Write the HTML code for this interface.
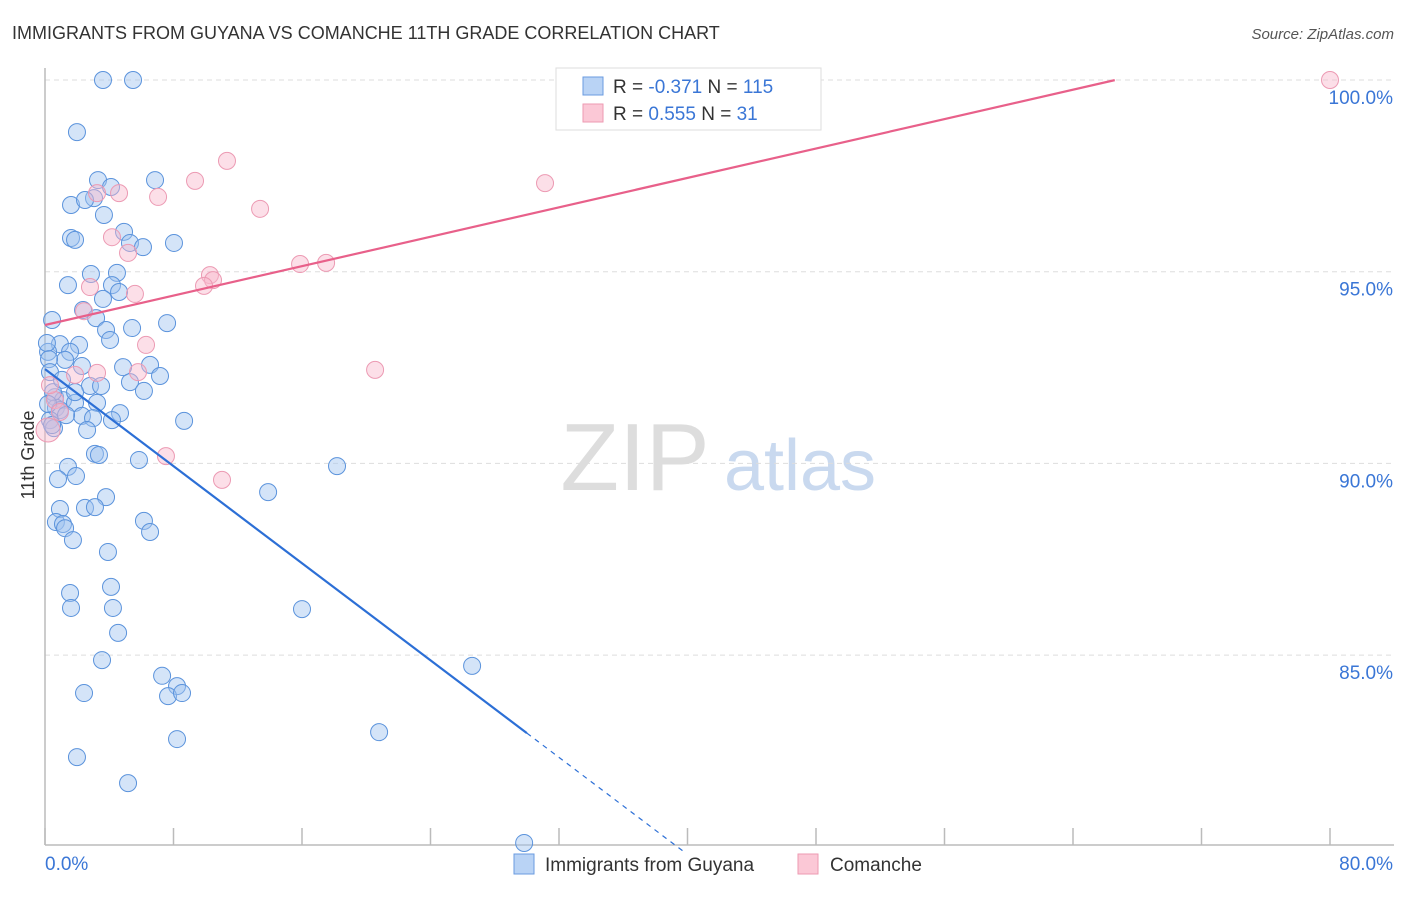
<!DOCTYPE html>
<html><head><meta charset="utf-8"><style>
body{margin:0;background:#fff;font-family:"Liberation Sans",sans-serif;}
svg text{font-family:"Liberation Sans",sans-serif;}
</style></head><body>
<svg id="chart" width="1406" height="892" xmlns="http://www.w3.org/2000/svg">
<text x="12" y="39" font-size="18" fill="#333">IMMIGRANTS FROM GUYANA VS COMANCHE 11TH GRADE CORRELATION CHART</text>
<text x="1394" y="39" font-size="15" fill="#555" text-anchor="end" font-style="italic">Source: ZipAtlas.com</text>
<g><text x="635" y="490" font-size="96" fill="#ddd" font-family="Liberation Serif" text-anchor="middle">ZIP</text><text x="800" y="490" font-size="72" fill="#c9d9ef" text-anchor="middle">atlas</text></g>
<g id="grid"></g><g id="axes"></g><g id="pts"></g><g id="lines"></g>
<text transform="translate(34,455) rotate(-90)" font-size="18" fill="#333" text-anchor="middle">11th Grade</text>
<g>
<rect x="556" y="68" width="265" height="62" fill="#fff" stroke="#ddd"/>
<rect x="583" y="77" width="20" height="18" fill="#b9d3f5" stroke="#6a9be0"/>
<rect x="583" y="104" width="20" height="18" fill="#fbc8d6" stroke="#ee9ab2"/>
<text x="613" y="93" font-size="19" fill="#333">R = <tspan fill="#3a76d6">-0.371</tspan>   N = <tspan fill="#3a76d6">115</tspan></text>
<text x="613" y="120" font-size="19" fill="#333">R =  <tspan fill="#3a76d6">0.555</tspan>   N =  <tspan fill="#3a76d6">31</tspan></text>
</g>
<g>
<rect x="514" y="854" width="20" height="20" fill="#b9d3f5" stroke="#6a9be0"/>
<text x="545" y="871" font-size="19" fill="#333">Immigrants from Guyana</text>
<rect x="798" y="854" width="20" height="20" fill="#fbc8d6" stroke="#ee9ab2"/>
<text x="830" y="871" font-size="19" fill="#333">Comanche</text>
</g>
</svg>
<script>
const yTicks=[100,95,90,85];
const yTickLabels=["100.0%","95.0%","90.0%","85.0%"];
const xTicks=[0,8,16,24,32,40,48,56,64,72,80];
const xEndLabels=["0.0%","80.0%"];
const blueX=[3.61,5.48,1.99,3.30,6.85,4.11,3.05,1.62,2.49,3.67,4.92,1.62,1.87,5.29,6.10,8.03,2.86,4.48,1.43,4.17,4.61,3.61,2.37,3.18,0.44,5.42,3.80,7.60,4.05,0.93,2.12,0.19,1.56,1.25,2.30,6.54,4.86,5.29,7.16,2.80,3.49,6.16,0.62,1.12,1.87,3.24,0.68,0.93,4.67,2.30,2.99,4.17,8.66,0.31,0.56,2.62,3.11,3.36,5.85,18.18,1.43,1.93,0.81,13.89,3.80,0.93,2.49,3.11,6.16,6.54,0.68,1.12,1.25,1.74,3.92,4.11,1.56,1.62,4.23,16.00,4.55,3.55,26.59,7.29,8.22,2.43,7.66,8.53,20.80,8.22,1.99,5.17,29.83,0.12,0.25,0.31,0.50,0.19,0.44,1.31,1.06,1.87];
const blueY=[100.0,100.0,98.64,97.39,97.39,97.21,96.92,96.74,96.87,96.48,96.04,95.88,95.83,95.75,95.64,95.75,94.94,94.97,94.65,94.65,94.47,94.29,94.00,93.79,93.74,93.53,93.48,93.66,93.22,93.11,93.09,92.91,92.91,92.70,92.54,92.57,92.51,92.12,92.28,92.02,92.02,91.89,91.73,91.65,91.58,91.58,91.45,91.39,91.31,91.24,91.18,91.13,91.11,91.13,90.92,90.87,90.25,90.22,90.09,89.93,89.91,89.67,89.59,89.25,89.12,88.81,88.84,88.86,88.50,88.21,88.47,88.42,88.31,88.00,87.69,86.78,86.62,86.23,86.23,86.20,85.58,84.87,84.72,84.46,84.19,84.01,83.93,84.01,82.99,82.81,82.34,81.66,80.10,93.14,92.72,92.38,91.86,91.55,91.00,91.26,92.18,91.86];
const pinkX=[33.13,80.0,11.33,9.34,31.13,7.04,4.61,3.24,13.39,4.17,5.17,15.88,17.50,10.27,10.46,9.90,2.80,5.60,2.43,6.29,20.55,1.87,3.24,5.79,7.53,11.02,0.62,0.93,0.19,0.31];
const pinkY=[100.0,100.0,97.89,97.37,97.31,96.95,97.05,97.05,96.64,95.90,95.49,95.20,95.23,94.91,94.78,94.63,94.60,94.42,93.97,93.09,92.44,92.31,92.36,92.38,90.19,89.57,91.65,91.34,90.87,92.04];
const blueFit=[92.46,-0.3165]; // intercept, slope
const blueSolidEnd=30.0, blueDashEnd=39.9;
const pinkFit=[93.61,0.0959];
const pinkEnd=66.6;
const X=v=>45+v*1285/80, Y=v=>80+(100-v)*191.7/5;
const NS="http://www.w3.org/2000/svg";
function mk(tag,attrs,parent){const e=document.createElementNS(NS,tag);for(const k in attrs)e.setAttribute(k,attrs[k]);document.getElementById(parent).appendChild(e);return e;}
yTicks.forEach((t,i)=>{
 const l=mk('line',{x1:45,x2:1394,y1:Y(t),y2:Y(t),stroke:'#ddd','stroke-dasharray':'5,4'},'grid');
 
 
 const tx=mk('text',{x:1393,y:Y(t)+24,'font-size':19,fill:'#3a76d6','text-anchor':'end'},'grid');tx.textContent=yTickLabels[i];
 
 
});
const ax=mk('line',{x1:45,x2:1394,y1:845,y2:845,stroke:'#bbb','stroke-width':1.5},'axes');


const ay=mk('line',{x1:45,x2:45,y1:68,y2:845,stroke:'#bbb','stroke-width':1.5},'axes');


xTicks.forEach(t=>{const l=mk('line',{x1:X(t),x2:X(t),y1:828,y2:845,stroke:'#bbb','stroke-width':1.5},'axes');
 
 });
[[0,'start'],[80,'end']].forEach((p,i)=>{const t=mk('text',{x:i?1393:45,y:870,'font-size':19,fill:'#3a76d6','text-anchor':p[1]},'axes');t.textContent=xEndLabels[i];
 
 });
blueX.forEach((v,i)=>{const c=mk('circle',{cx:X(v),cy:Y(blueY[i]),r:8.5,fill:'rgba(160,195,240,0.45)',stroke:'#5b93dc','stroke-width':1},'pts');
 
 });
pinkX.forEach((v,i)=>{const c=mk('circle',{cx:X(v),cy:Y(pinkY[i]),r:i==28?12:8.5,fill:'rgba(248,185,205,0.45)',stroke:'#ec9ab3','stroke-width':1},'pts');
 
 });
const bf=x=>blueFit[0]+blueFit[1]*x, pf=x=>pinkFit[0]+pinkFit[1]*x;
let l=mk('line',{x1:X(0),y1:Y(bf(0)),x2:X(blueSolidEnd),y2:Y(bf(blueSolidEnd)),stroke:'#2c6fd6','stroke-width':2.2},'lines');


l=mk('line',{x1:X(blueSolidEnd),y1:Y(bf(blueSolidEnd)),x2:X(blueDashEnd),y2:Y(bf(blueDashEnd)),stroke:'#2c6fd6','stroke-width':1.2,'stroke-dasharray':'5,5'},'lines');


l=mk('line',{x1:X(0),y1:Y(pf(0)),x2:X(pinkEnd),y2:Y(pf(pinkEnd)),stroke:'#e8608a','stroke-width':2.2},'lines');


</script>
</body></html>
